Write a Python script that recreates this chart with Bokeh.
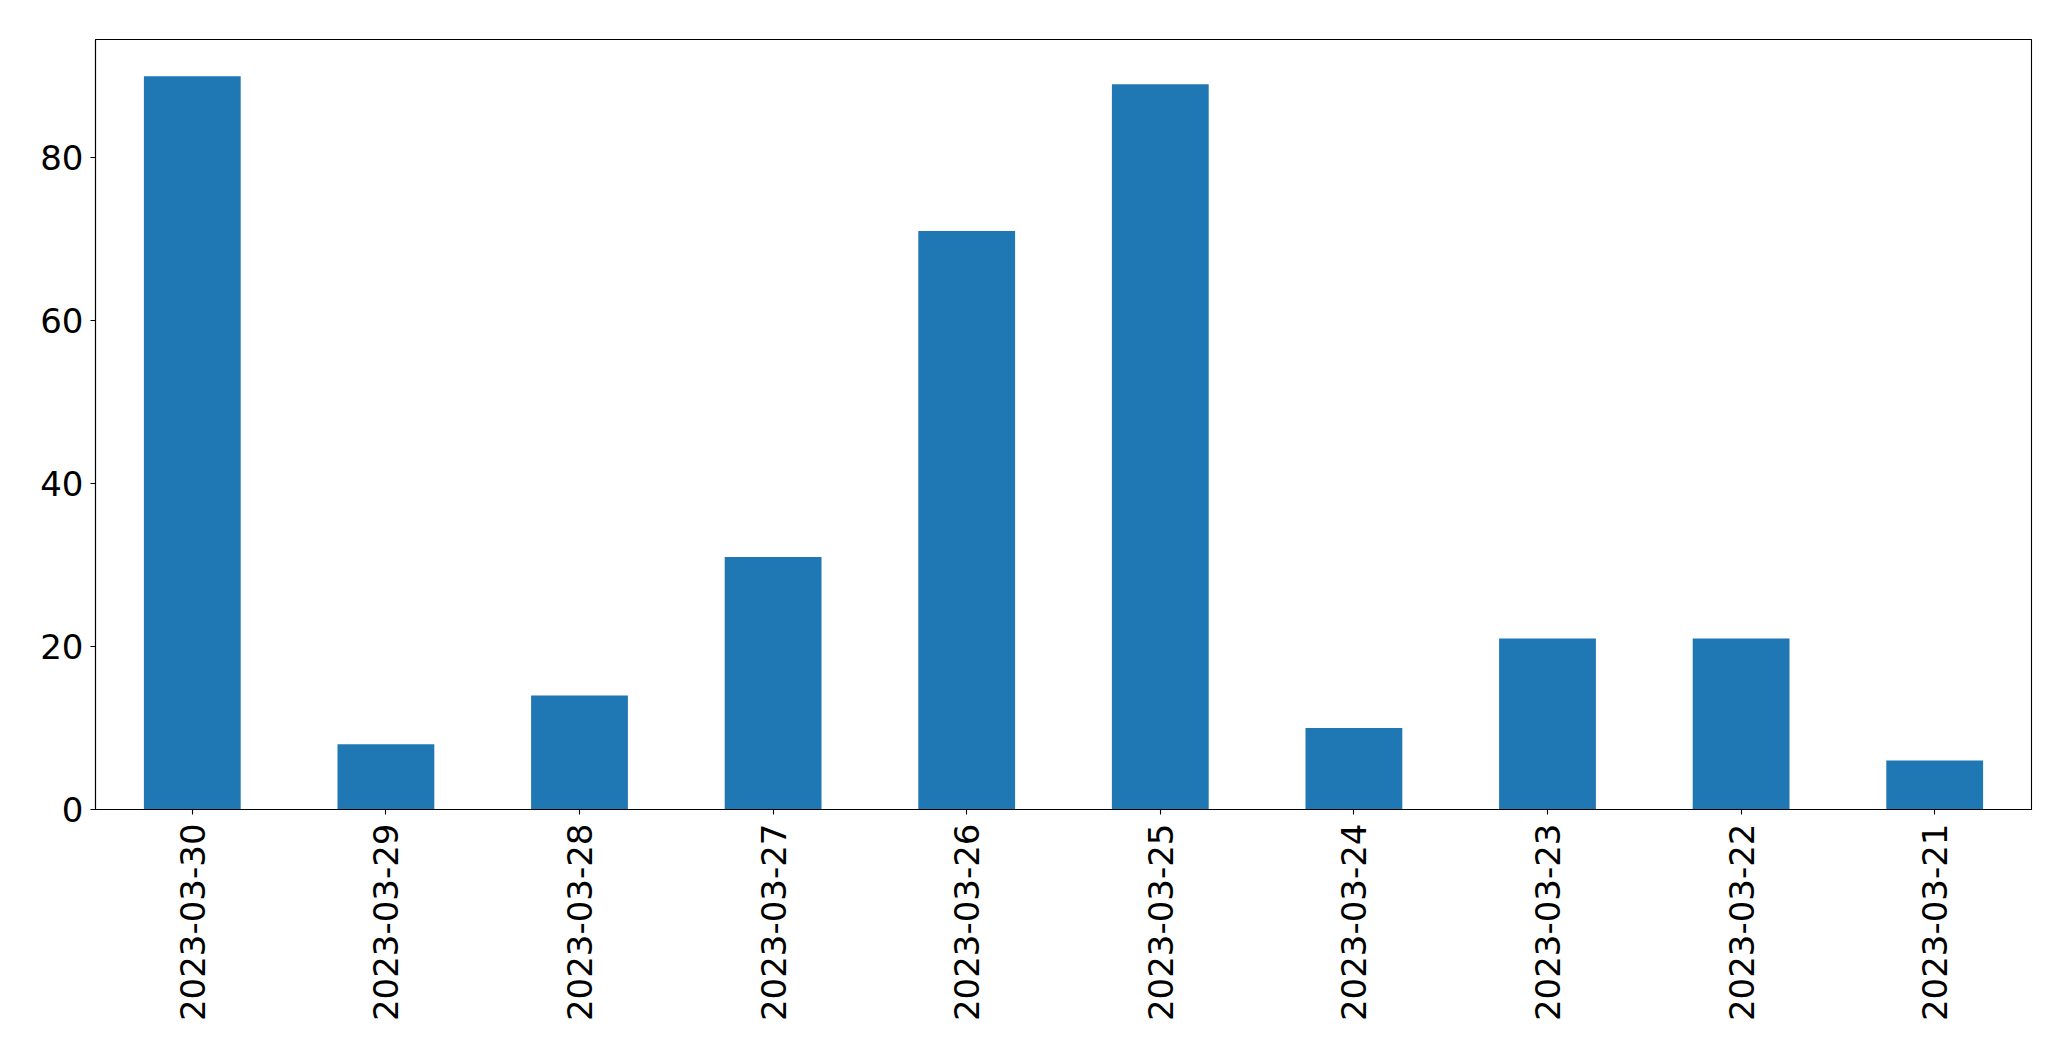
import math
from bokeh.plotting import figure
from bokeh.models import FactorRange, Range1d, FixedTicker, ColumnDataSource
from bokeh.embed import file_html
from bokeh.resources import INLINE

dates = ["2023-03-30", "2023-03-29", "2023-03-28", "2023-03-27", "2023-03-26",
         "2023-03-25", "2023-03-24", "2023-03-23", "2023-03-22", "2023-03-21"]
counts = [90, 8, 14, 31, 71, 89, 10, 21, 21, 6]
y_ticks = [0, 20, 40, 60, 80]

src = ColumnDataSource(dict(date=dates, count=counts))

p = figure(width=2063, height=1053, output_backend="svg", toolbar_location=None,
           x_range=FactorRange(*dates), y_range=Range1d(0, max(counts) * 1.05),
           min_border_left=95, min_border_right=32, min_border_top=39, min_border_bottom=244)

p.vbar(x="date", top="count", width=0.5, source=src, color="#1f77b4", line_color=None)

p.outline_line_color = "black"
p.outline_line_width = 1.1
p.xgrid.visible = False
p.ygrid.visible = False

for ax in (p.xaxis, p.yaxis):
    ax.axis_line_color = "black"
    ax.axis_line_width = 1.1
    ax.major_tick_line_color = "black"
    ax.major_tick_line_width = 1.1
    ax.major_tick_in = 0
    ax.major_tick_out = 5
    ax.minor_tick_line_color = None
    ax.major_label_text_font = "DejaVu Sans"
    ax.major_label_text_font_size = "34px"
    ax.major_label_text_color = "black"

p.yaxis.ticker = FixedTicker(ticks=y_ticks)
p.yaxis.major_label_standoff = 7
p.xaxis.major_label_orientation = math.pi / 2
p.xaxis.major_label_standoff = 9

open("out.html", "w").write(file_html(p, INLINE))
